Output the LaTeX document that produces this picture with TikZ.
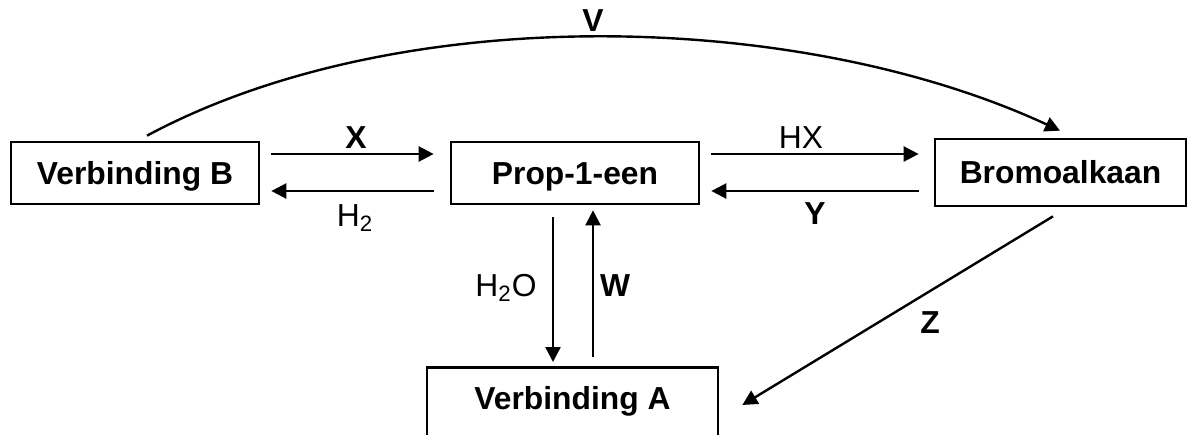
\documentclass[tikz,border=0pt]{standalone}
\usepackage{fontspec}
\setmainfont{Liberation Sans}
\usetikzlibrary{arrows.meta,calc}
\begin{document}
\begin{tikzpicture}[x=0.5pt,y=-0.5pt,
  box/.style={draw,line width=1.35pt,inner sep=0pt,font=\fontsize{15.9pt}{18pt}\selectfont\bfseries,text height=11.4pt,text depth=0pt},
  arr/.style={line width=1.2pt,-{Triangle[length=7.5pt,width=7.5pt]}},
  lbl/.style={inner sep=0pt,font=\fontsize{15.9pt}{18pt}\selectfont,text height=11.4pt,text depth=0pt},
  blbl/.style={lbl,font=\fontsize{15.9pt}{18pt}\selectfont\bfseries}]
\fill[white] (0,0) rectangle (1188,434);
\useasboundingbox (0,0) rectangle (1188,434);
\clip (0,0) rectangle (1188,434);

\node[box,minimum width=124pt,minimum height=31pt] (B) at (135,173) {Verbinding B};
\node[box,minimum width=124pt,minimum height=31pt] (P) at (575,173) {Prop-1-een};
\node[box,minimum width=125.5pt,minimum height=33.5pt] (Br) at (1060.5,172.5) {Bromoalkaan};
\node[box,minimum width=145.5pt,anchor=north,text height=21.2pt,text depth=30pt] (A) at (572.5,366) {Verbinding A};

% horizontal arrows
\draw[arr] ($(B.east)+(11,-19)$) -- ($(P.west)+(-16,-19)$);
\draw[arr] ($(P.west)+(-16,18)$) -- ($(B.east)+(11,18)$);
\draw[arr] ($(P.east)+(11,-19)$) -- ($(Br.west)+(-15,-18.5)$);
\draw[arr] ($(Br.west)+(-15,18.5)$) -- ($(P.east)+(11,18)$);
% vertical arrows
\draw[arr] ($(P.south)+(-22,12)$) -- ($(P.south |- A.north)+(-22,-4)$);
\draw[arr] ($(P.south |- A.north)+(18,-9)$) -- ($(P.south)+(18,5)$);
% Z arrow
\draw[arr] ($(Br.south)+(-7.5,9)$) -- ($(A.north east)+(23,39)$);
% V curve
\draw[arr] ($(B.north)+(12,-5)$) .. controls (400,0) and (800,10) .. ($(Br.north)+(-0.5,-7)$);

% labels
\node[blbl] (lX) at (356,137) {X};
\node[lbl] (lH2) at (355,215) {H\textsubscript{2}};
\node[lbl] (lHX) at (801,137) {HX};
\node[blbl] (lY) at (815,213) {Y};
\node[lbl] (lH2O) at (506,285) {H\textsubscript{2}O};
\node[blbl] (lW) at (615,285) {W};
\node[blbl] (lV) at (593,20) {V};
\node[blbl] (lZ) at (930,322) {Z};
\end{tikzpicture}
\end{document}
